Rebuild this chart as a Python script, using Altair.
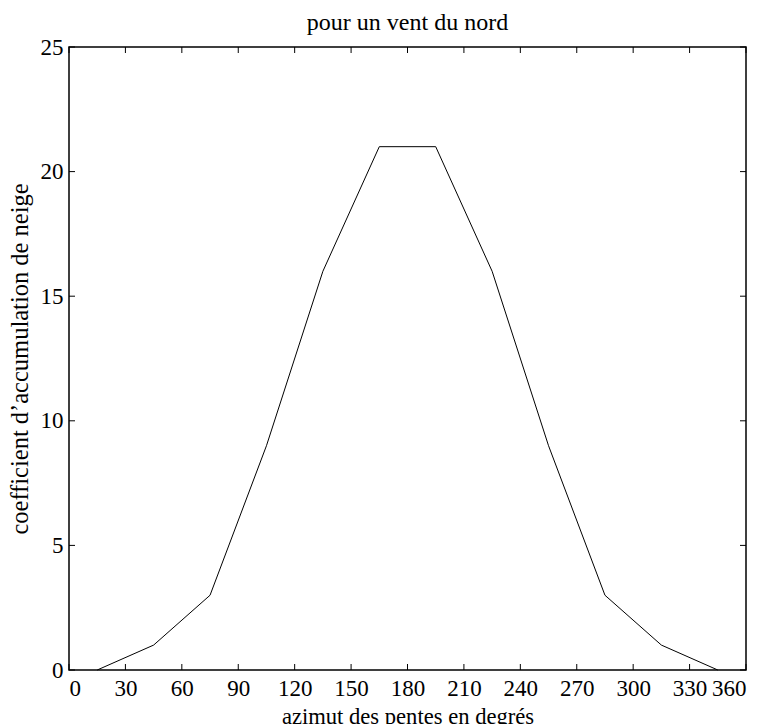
import altair as alt
import pandas as pd

azimut = [15, 45, 75, 105, 135, 165, 195, 225, 255, 285, 315, 345]
coef = [0, 1, 3, 9, 16, 21, 21, 16, 9, 3, 1, 0]
xticks = [0, 30, 60, 90, 120, 150, 180, 210, 240, 270, 300, 330, 360]
yticks = [0, 5, 10, 15, 20, 25]

W, H = 677, 623
TL = 6
FONT = "Liberation Serif"

df = pd.DataFrame({"azimut": azimut, "coef": coef})
dx = pd.DataFrame({"t": xticks})
dy = pd.DataFrame({"t": yticks})

xs = alt.Scale(domain=[0, 360], nice=False)
ys = alt.Scale(domain=[0, 25], nice=False)

line = alt.Chart(df).mark_line(color="black", strokeWidth=1).encode(
    x=alt.X("azimut:Q", scale=xs, title="azimut des pentes en degrés",
            axis=alt.Axis(values=xticks, tickSize=0, domain=False, grid=False,
                          labelPadding=7, titlePadding=5, titleFontSize=22.6)),
    y=alt.Y("coef:Q", scale=ys, title="coefficient d’accumulation de neige",
            axis=alt.Axis(values=yticks, tickSize=0, domain=False, grid=False,
                          labelPadding=6, titlePadding=8, titleFontSize=24.5)),
)

xb = alt.Chart(dx).mark_rule(color="black").encode(
    x=alt.X("t:Q", scale=xs), y=alt.value(H), y2=alt.value(H - TL))
xt = alt.Chart(dx).mark_rule(color="black").encode(
    x=alt.X("t:Q", scale=xs), y=alt.value(0), y2=alt.value(TL))
yl = alt.Chart(dy).mark_rule(color="black").encode(
    y=alt.Y("t:Q", scale=ys), x=alt.value(0), x2=alt.value(TL))
yr = alt.Chart(dy).mark_rule(color="black").encode(
    y=alt.Y("t:Q", scale=ys), x=alt.value(W), x2=alt.value(W - TL))

chart = alt.layer(line, xb, xt, yl, yr).properties(
    width=W, height=H,
    title=alt.TitleParams("pour un vent du nord", font=FONT, fontSize=24,
                          fontWeight="normal", color="black", offset=1),
    autosize=alt.AutoSizeParams(type="none"),
    padding={"left": 61, "top": 39, "right": 13, "bottom": 54},
).configure_view(stroke="black", strokeWidth=1.5).configure_axis(
    labelFont=FONT, titleFont=FONT, labelFontSize=23,
    labelColor="black", titleColor="black", titleFontWeight="normal",
)

chart.save("out.html", embed_options={"renderer": "svg", "actions": False})
